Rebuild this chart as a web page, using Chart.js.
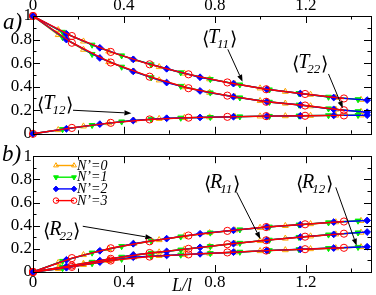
<!DOCTYPE html>
<html>
<head>
<meta charset="utf-8">
<script src="https://cdn.jsdelivr.net/npm/chart.js@4.4.1/dist/chart.umd.min.js"></script>
<style>
html,body{margin:0;padding:0;background:#fff;}
#wrap{position:relative;width:376px;height:295px;overflow:hidden;}
canvas{position:absolute;left:0;}
#ca{top:0;}
#cb{top:145px;}
</style>
</head>
<body>
<div id="wrap">
  <canvas id="ca" width="376" height="145"></canvas>
  <canvas id="cb" width="376" height="150"></canvas>
</div>
<script>
// sample positions (L/l) of each series
const xN0 = [0,0.111,0.222,0.333,0.444,0.555,0.666,0.777,0.888,0.999,1.11,1.221,1.332,1.443];
const xN1 = [0,0.13,0.26,0.39,0.52,0.65,0.78,0.91,1.04,1.17,1.30,1.43];
const xN2 = [0,0.147,0.294,0.441,0.588,0.735,0.882,1.029,1.176,1.323,1.47];
const xN3 = [0,0.171,0.342,0.513,0.684,0.855,1.026,1.197,1.368];

// panel a) <T11>
const t11N0 = [1,0.882,0.785,0.70,0.629,0.568,0.513,0.464,0.425,0.387,0.358,0.333,0.307,0.29];
const t11N1 = [1,0.864,0.755,0.664,0.588,0.52,0.463,0.417,0.375,0.344,0.313,0.292];
const t11N2 = [1,0.848,0.73,0.632,0.552,0.48,0.426,0.378,0.342,0.308,0.286];
const t11N3 = [1,0.83,0.695,0.59,0.505,0.436,0.378,0.338,0.30];
// <T22>
const t22N0 = [1,0.84,0.715,0.61,0.53,0.455,0.397,0.35,0.314,0.28,0.258,0.235,0.207,0.188];
const t22N1 = [1,0.82,0.676,0.568,0.478,0.405,0.349,0.307,0.27,0.246,0.214,0.19];
const t22N2 = [1,0.80,0.644,0.53,0.435,0.364,0.315,0.272,0.244,0.208,0.183];
const t22N3 = [1,0.773,0.605,0.485,0.387,0.324,0.272,0.24,0.2];
// <T12>
const t12N0 = [0,0.033,0.064,0.091,0.113,0.128,0.136,0.141,0.145,0.149,0.151,0.154,0.156,0.158];
const t12N1 = [0,0.038,0.073,0.103,0.125,0.135,0.141,0.146,0.150,0.153,0.156,0.158];
const t12N2 = [0,0.043,0.082,0.113,0.132,0.139,0.145,0.150,0.153,0.156,0.158];
const t12N3 = [0,0.05,0.093,0.122,0.137,0.144,0.150,0.153,0.156];

// panel b) <R22>
const r22N0 = [0,0.08,0.148,0.2,0.245,0.277,0.31,0.338,0.361,0.383,0.399,0.415,0.431,0.443];
const r22N1 = [0,0.094,0.166,0.222,0.268,0.305,0.339,0.366,0.39,0.408,0.427,0.442];
const r22N2 = [0,0.105,0.183,0.244,0.288,0.33,0.36,0.389,0.409,0.431,0.445];
const r22N3 = [0,0.12,0.205,0.265,0.315,0.355,0.388,0.412,0.436];
// <R11>
const r11N0 = [0,0.036,0.073,0.11,0.147,0.171,0.196,0.222,0.246,0.269,0.29,0.309,0.326,0.341];
const r11N1 = [0,0.042,0.086,0.13,0.164,0.192,0.222,0.25,0.277,0.301,0.322,0.34];
const r11N2 = [0,0.048,0.098,0.147,0.178,0.213,0.245,0.275,0.302,0.325,0.345];
const r11N3 = [0,0.056,0.114,0.164,0.2,0.24,0.274,0.305,0.331];
// <R12>
const r12N0 = [0,0.027,0.062,0.097,0.128,0.14,0.15,0.161,0.171,0.182,0.19,0.199,0.207,0.216];
const r12N1 = [0,0.032,0.074,0.112,0.137,0.148,0.161,0.173,0.186,0.195,0.205,0.215];
const r12N2 = [0,0.037,0.085,0.128,0.143,0.157,0.171,0.185,0.196,0.207,0.218];
const r12N3 = [0,0.044,0.099,0.133,0.152,0.169,0.185,0.197,0.209];

const seriesNames = ['N\u2019=0','N\u2019=1','N\u2019=2','N\u2019=3'];
const xTicks = [0,0.4,0.8,1.2];
const xMinor = [0.2,0.6,1.0,1.4];
const yTicks = [0,0.2,0.4,0.6,0.8,1];
const yMinor = [0.1,0.3,0.5,0.7,0.9];

const X_MAX = 1.487;
const xs = [xN0,xN1,xN2,xN3];
const colors = ['#ffa500','#00ee00','#0000ff','#ff0000'];
const styles = [
  {pointStyle:'triangle', rotation:0, fill:false, radius:3.4},
  {pointStyle:'triangle', rotation:180, fill:true, radius:3.4},
  {pointStyle:'rectRot', rotation:0, fill:true, radius:3.4},
  {pointStyle:'circle', rotation:0, fill:false, radius:3.6}
];
const SERIF = '"Liberation Serif", "DejaVu Serif", serif';

function makeSets(curves){
  const out=[];
  curves.forEach(c=>{
    c.forEach((ys,s)=>{
      const st=styles[s];
      out.push({
        label: seriesNames[s],
        data: xs[s].map((x,i)=>({x:x,y:ys[i]})),
        showLine:true,
        borderColor:colors[s],
        borderWidth:1.4,
        pointStyle:st.pointStyle,
        pointRotation:st.rotation,
        pointRadius:st.radius,
        pointBorderWidth:1,
        pointBorderColor:colors[s],
        pointBackgroundColor: st.fill ? colors[s] : 'rgba(0,0,0,0)',
        tension:0,
        clip:false,
        order:3-s
      });
    });
  });
  return out;
}

function fmt(v){ return String(+v.toFixed(1)); }

function drawBracketLabel(ctx, x, y, main, sub){
  ctx.fillStyle='#000';
  ctx.textAlign='left';
  ctx.textBaseline='alphabetic';
  ctx.font='300 19px "DejaVu Sans", sans-serif';
  ctx.fillText('\u27e8', x, y+2);
  let cx = x + ctx.measureText('\u27e8').width - 1;
  ctx.font='italic 20px '+SERIF;
  ctx.fillText(main, cx, y);
  cx += ctx.measureText(main).width - 2;
  ctx.font='italic 13px '+SERIF;
  ctx.fillText(sub, cx, y+5);
  cx += ctx.measureText(sub).width + 1;
  ctx.font='300 19px "DejaVu Sans", sans-serif';
  ctx.fillText('\u27e9', cx, y+2);
}

function drawArrow(ctx, x0, y0, x1, y1){
  ctx.strokeStyle='#000';
  ctx.fillStyle='#000';
  ctx.lineWidth=1;
  const a=Math.atan2(y1-y0, x1-x0);
  const L=7, W=2.6;
  const bx=x1-L*Math.cos(a), by=y1-L*Math.sin(a);
  ctx.beginPath(); ctx.moveTo(x0,y0); ctx.lineTo(bx,by); ctx.stroke();
  ctx.beginPath();
  ctx.moveTo(x1,y1);
  ctx.lineTo(bx+W*Math.sin(a), by-W*Math.cos(a));
  ctx.lineTo(bx-W*Math.sin(a), by+W*Math.cos(a));
  ctx.closePath(); ctx.fill();
}

function frameAndTicks(chart){
  const ctx=chart.ctx, a=chart.chartArea, sx=chart.scales.x, sy=chart.scales.y;
  ctx.save();
  ctx.strokeStyle='#000';
  ctx.lineWidth=1;
  ctx.beginPath();
  const tk=(list,len)=>{
    list.forEach(v=>{
      const px=Math.round(sx.getPixelForValue(v))+0.5;
      if(px<=a.left+1||px>=a.right-1) return;
      ctx.moveTo(px,a.top); ctx.lineTo(px,a.top+len);
      ctx.moveTo(px,a.bottom); ctx.lineTo(px,a.bottom-len);
    });
  };
  const tky=(list,len)=>{
    list.forEach(v=>{
      const py=Math.round(sy.getPixelForValue(v))+0.5;
      if(py<=a.top+1||py>=a.bottom-1) return;
      ctx.moveTo(a.left,py); ctx.lineTo(a.left+len,py);
      ctx.moveTo(a.right,py); ctx.lineTo(a.right-len,py);
    });
  };
  tk(xTicks,7); tk(xMinor,3.5); tky(yTicks,7); tky(yMinor,3.5);
  ctx.stroke();
  ctx.strokeRect(Math.round(a.left)+0.5, Math.round(a.top)+0.5, Math.round(a.right-a.left), Math.round(a.bottom-a.top));
  ctx.restore();
}

function notes(chart, list){
  const ctx=chart.ctx, sx=chart.scales.x, sy=chart.scales.y;
  ctx.save();
  list.forEach(n=>{
    drawBracketLabel(ctx, sx.getPixelForValue(n.x), sy.getPixelForValue(n.y), n.main, n.sub);
    drawArrow(ctx, sx.getPixelForValue(n.ax0), sy.getPixelForValue(n.ay0), sx.getPixelForValue(n.ax1), sy.getPixelForValue(n.ay1));
  });
  ctx.restore();
}

const notesA = [
  {main:'T', sub:'11', x:0.743, y:0.767, ax0:0.857, ay0:0.717, ax1:0.922, ay1:0.442},
  {main:'T', sub:'22', x:1.14, y:0.558, ax0:1.30, ay0:0.508, ax1:1.363, ay1:0.217},
  {main:'T', sub:'12', x:0.019, y:0.208, ax0:0.176, ay0:0.2, ax1:0.433, ay1:0.175}
];
const notesB = [
  {main:'R', sub:'22', x:0.045, y:0.319, ax0:0.219, ay0:0.395, ax1:0.525, ay1:0.294},
  {main:'R', sub:'11', x:0.752, y:0.723, ax0:0.896, ay0:0.689, ax1:1.0, ay1:0.286},
  {main:'R', sub:'12', x:1.157, y:0.723, ax0:1.332, ay0:0.731, ax1:1.424, ay1:0.227}
];

function axes(xPos, xHeight){
  return {
    x:{type:'linear', position:xPos, min:0, max:X_MAX,
      afterBuildTicks:s=>{ s.ticks=xTicks.map(v=>({value:v})); },
      afterFit:s=>{ s.height=xHeight; },
      grid:{display:false, drawTicks:false}, border:{display:false},
      ticks:{padding:0, color:'#000', maxRotation:0, autoSkip:false,
        font:{family:SERIF, size:17}, callback:fmt}},
    y:{type:'linear', min:0, max:1,
      afterBuildTicks:s=>{ s.ticks=yTicks.map(v=>({value:v})); },
      afterFit:s=>{ s.width=33; },
      grid:{display:false, drawTicks:false}, border:{display:false},
      ticks:{padding:1, color:'#000', autoSkip:false, font:{family:SERIF, size:17}, callback:fmt}}
  };
}

const common = {
  responsive:false, animation:false, events:[],
  plugins:{legend:{display:false}, tooltip:{enabled:false}}
};

new Chart(document.getElementById('ca'), {
  type:'scatter',
  data:{datasets: makeSets([[t11N0,t11N1,t11N2,t11N3],[t22N0,t22N1,t22N2,t22N3],[t12N0,t12N1,t12N2,t12N3]])},
  options:Object.assign({}, common, {
    layout:{padding:{left:0,right:3,top:0,bottom:9}},
    scales:axes('top',16)
  }),
  plugins:[{id:'decoA', afterDraw(chart){
    frameAndTicks(chart);
    notes(chart, notesA);
    const ctx=chart.ctx;
    ctx.save();
    ctx.fillStyle='#000';
    ctx.font='italic 23px '+SERIF;
    ctx.textBaseline='alphabetic';
    ctx.fillText('a)', 3, 29);
    ctx.restore();
  }}]
});

new Chart(document.getElementById('cb'), {
  type:'scatter',
  data:{datasets: makeSets([[r22N0,r22N1,r22N2,r22N3],[r11N0,r11N1,r11N2,r11N3],[r12N0,r12N1,r12N2,r12N3]])},
  options:Object.assign({}, common, {
    layout:{padding:{left:0,right:3,top:8,bottom:0}},
    scales:axes('bottom',23)
  }),
  plugins:[{id:'decoB', afterDraw(chart){
    frameAndTicks(chart);
    notes(chart, notesB);
    const ctx=chart.ctx;
    ctx.save();
    ctx.fillStyle='#000';
    ctx.textBaseline='alphabetic';
    ctx.font='italic 23px '+SERIF;
    ctx.fillText('b)', 2, 16);
    ctx.font='italic 18px '+SERIF;
    ctx.fillText('L/l', 172, 146);
    // legend
    seriesNames.forEach((name,s)=>{
      const y=20.5+s*11.7;
      ctx.strokeStyle=colors[s]; ctx.lineWidth=1.4;
      ctx.beginPath(); ctx.moveTo(56,y); ctx.lineTo(74,y); ctx.stroke();
      const st=styles[s];
      ctx.fillStyle= st.fill ? colors[s] : 'rgba(0,0,0,0)';
      ctx.lineWidth=1;
      [56,74].forEach(px=>Chart.helpers.drawPoint(ctx,{pointStyle:st.pointStyle, rotation:st.rotation, radius:2.8, borderWidth:1}, px, y));
      ctx.fillStyle='#000';
      ctx.font='italic 14px '+SERIF;
      ctx.textBaseline='middle';
      ctx.fillText(name, 77, y+0.5);
      ctx.textBaseline='alphabetic';
    });
    ctx.restore();
  }}]
});
</script>
</body>
</html>
